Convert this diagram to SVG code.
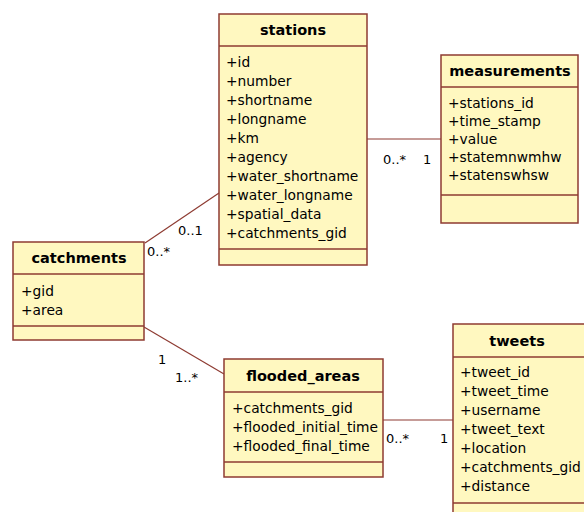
<svg xmlns="http://www.w3.org/2000/svg" width="584" height="512" viewBox="0 0 584 512">
<style>
.box{fill:#FFF8C0;stroke:#8E3B32;stroke-width:1.5}
.sep{stroke:#8E3B32;stroke-width:1.5}
.t{font-family:"DejaVu Sans",Verdana,sans-serif;font-size:13.8px;fill:#000}
.h{font-family:"DejaVu Sans",Verdana,sans-serif;font-size:14.5px;font-weight:bold;fill:#000;text-anchor:middle}
.c{stroke:#8E3B32;stroke-width:1.2;fill:none}
.m{font-family:"DejaVu Sans",Verdana,sans-serif;font-size:13px;fill:#000}
</style>
<rect width="584" height="512" fill="#fff"/>
<g id="connectors">
<line class="c" x1="367" y1="139" x2="441" y2="139"/>
<line class="c" x1="145" y1="243" x2="219" y2="193"/>
<line class="c" x1="144" y1="327" x2="224" y2="374"/>
<line class="c" x1="383" y1="420" x2="453" y2="420"/>
<text class="m" x="383" y="164">0..*</text>
<text class="m" x="423" y="164">1</text>
<text class="m" x="178" y="235">0..1</text>
<text class="m" x="147" y="256">0..*</text>
<text class="m" x="158" y="364">1</text>
<text class="m" x="175" y="382">1..*</text>
<text class="m" x="386" y="443">0..*</text>
<text class="m" x="440" y="443">1</text>
</g>
<g id="stations">
<rect class="box" x="219" y="14" width="148" height="251"/>
<line class="sep" x1="219" y1="46" x2="367" y2="46"/>
<line class="sep" x1="219" y1="249" x2="367" y2="249"/>
<text class="h" x="293" y="35">stations</text>
<text class="t" x="226" y="67">+id</text>
<text class="t" x="226" y="86">+number</text>
<text class="t" x="226" y="105">+shortname</text>
<text class="t" x="226" y="124">+longname</text>
<text class="t" x="226" y="143">+km</text>
<text class="t" x="226" y="162">+agency</text>
<text class="t" x="226" y="181">+water_shortname</text>
<text class="t" x="226" y="200">+water_longname</text>
<text class="t" x="226" y="219">+spatial_data</text>
<text class="t" x="226" y="238">+catchments_gid</text>
</g>
<g id="measurements">
<rect class="box" x="441" y="55" width="137" height="168"/>
<line class="sep" x1="441" y1="87" x2="578" y2="87"/>
<line class="sep" x1="441" y1="195" x2="578" y2="195"/>
<text class="h" x="510" y="76">measurements</text>
<text class="t" x="448" y="108">+stations_id</text>
<text class="t" x="448" y="126">+time_stamp</text>
<text class="t" x="448" y="144">+value</text>
<text class="t" x="448" y="162">+statemnwmhw</text>
<text class="t" x="448" y="180">+statenswhsw</text>
</g>
<g id="catchments">
<rect class="box" x="13" y="242" width="131" height="98"/>
<line class="sep" x1="13" y1="274" x2="144" y2="274"/>
<line class="sep" x1="13" y1="326" x2="144" y2="326"/>
<text class="h" x="79" y="263">catchments</text>
<text class="t" x="21" y="296">+gid</text>
<text class="t" x="21" y="315">+area</text>
</g>
<g id="flooded_areas">
<rect class="box" x="224" y="359" width="159" height="118"/>
<line class="sep" x1="224" y1="392" x2="383" y2="392"/>
<line class="sep" x1="224" y1="462" x2="383" y2="462"/>
<text class="h" x="303" y="381">flooded_areas</text>
<text class="t" x="232" y="413">+catchments_gid</text>
<text class="t" x="232" y="432">+flooded_initial_time</text>
<text class="t" x="232" y="451">+flooded_final_time</text>
</g>
<g id="tweets">
<rect class="box" x="453" y="324" width="140" height="200"/>
<line class="sep" x1="453" y1="357" x2="593" y2="357"/>
<line class="sep" x1="453" y1="503" x2="593" y2="503"/>
<text class="h" x="517" y="346">tweets</text>
<text class="t" x="460" y="377">+tweet_id</text>
<text class="t" x="460" y="396">+tweet_time</text>
<text class="t" x="460" y="415">+username</text>
<text class="t" x="460" y="434">+tweet_text</text>
<text class="t" x="460" y="453">+location</text>
<text class="t" x="460" y="472">+catchments_gid</text>
<text class="t" x="460" y="491">+distance</text>
</g>
</svg>
